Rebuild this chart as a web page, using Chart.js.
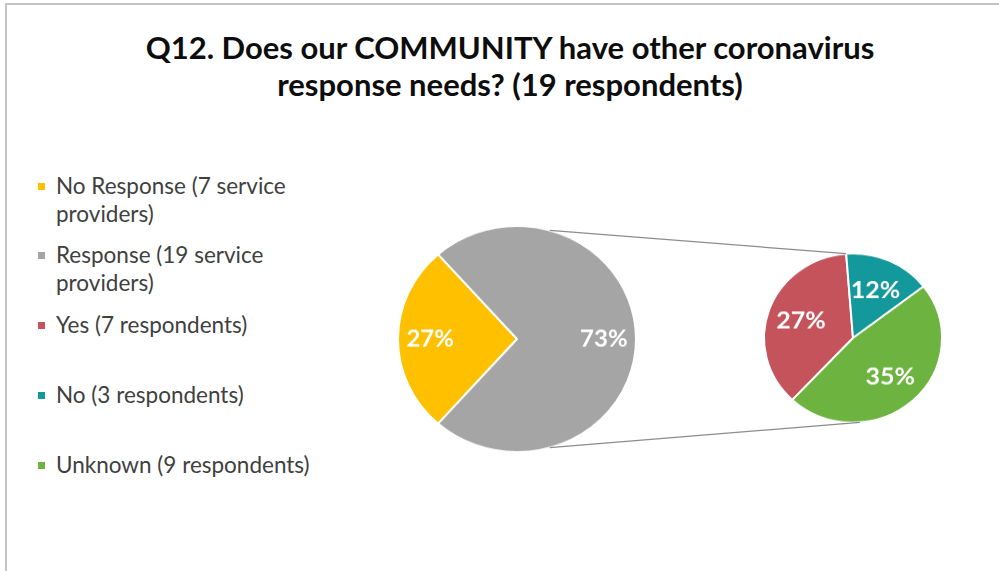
<!DOCTYPE html>
<html>
<head>
<meta charset="utf-8">
<script src="https://cdn.jsdelivr.net/npm/chart.js@4"></script>
<style>
  html, body { margin: 0; padding: 0; background: #fff; }
  #page { position: relative; width: 999px; height: 571px; overflow: hidden; background: #fff; font-family: Lato, "Open Sans", sans-serif; }
  #frameTop { position: absolute; left: 5px; top: 3px; width: 994px; height: 2px; background: #c4c4c4; }
  #frameLeft { position: absolute; left: 5px; top: 3px; width: 2px; height: 568px; background: #c4c4c4; }
  #title { position: absolute; left: 0; width: 1020px; top: 29px; text-align: center; font-weight: 700; font-size: 31px; line-height: 37px; color: #0d0d0d; }
  .leg { position: absolute; left: 56px; font-size: 22.5px; line-height: 28px; color: #404040; white-space: nowrap; }
  .sw { position: absolute; left: 38px; width: 7px; height: 7px; }
  .pieBox { position: absolute; transform: scaleY(0.95); transform-origin: 50% 50%; }
  #links { position: absolute; left: 0; top: 0; }
</style>
</head>
<body>
<div id="page">
  <div id="frameTop"></div>
  <div id="frameLeft"></div>
  <div id="title">Q12. Does our COMMUNITY have other coronavirus<br>response needs? (19 respondents)</div>
  <div id="legend"></div>
  <div class="pieBox" id="boxMain" style="left:392px; top:214px; width:250px; height:250px;"><canvas id="mainPie" width="250" height="250"></canvas></div>
  <div class="pieBox" id="boxSub" style="left:758px; top:243px; width:190px; height:190px;"><canvas id="subPie" width="190" height="190"></canvas></div>
  <svg id="links" width="999" height="571"></svg>
</div>
<script>
// Primary pie: providers who did / did not respond
const mainLabels = [['No Response (7 service', 'providers)'], ['Response (19 service', 'providers)']];
const mainValues = [7, 19];
const mainColors = ['#FFC000', '#A5A5A5'];

// Secondary pie: breakdown of the responses
const subLabels = [['Yes (7 respondents)'], ['No (3 respondents)'], ['Unknown (9 respondents)']];
const subValues = [7, 3, 9];
const subColors = ['#C5535C', '#13989C', '#6CB33F'];

const total = mainValues.reduce((a, b) => a + b, 0);
const pct = v => Math.round(v / total * 100) + '%';

// Legend rows (first-line centres)
const legendRows = [186, 255, 325, 395, 465];
const legendItems = mainLabels.map((l, i) => ({ lines: l, color: mainColors[i] }))
  .concat(subLabels.map((l, i) => ({ lines: l, color: subColors[i] })));
const legendEl = document.getElementById('legend');
legendItems.forEach((item, i) => {
  const y = legendRows[i];
  const sw = document.createElement('div');
  sw.className = 'sw';
  sw.style.top = (y - 3) + 'px';
  sw.style.background = item.color;
  legendEl.appendChild(sw);
  const t = document.createElement('div');
  t.className = 'leg';
  t.style.top = (y - 14) + 'px';
  t.innerHTML = item.lines.join('<br>');
  legendEl.appendChild(t);
});

// Percentage labels inside each slice
function sliceLabels(factor, font) {
  return {
    id: 'sliceLabels',
    afterDatasetsDraw(chart) {
      const ctx = chart.ctx;
      const meta = chart.getDatasetMeta(0);
      const values = chart.data.datasets[0].data;
      ctx.save();
      ctx.fillStyle = '#ffffff';
      ctx.font = font;
      ctx.textAlign = 'center';
      ctx.textBaseline = 'middle';
      meta.data.forEach((arc, i) => {
        const p = arc.getProps(['x', 'y', 'startAngle', 'endAngle', 'outerRadius'], true);
        const mid = (p.startAngle + p.endAngle) / 2;
        const r = p.outerRadius * factor;
        ctx.fillText(pct(values[i]), p.x + Math.cos(mid) * r, p.y + Math.sin(mid) * r);
      });
      ctx.restore();
    }
  };
}

function pieConfig(labels, values, colors, rotation, factor, font) {
  return {
    type: 'pie',
    data: {
      labels: labels,
      datasets: [{ data: values, backgroundColor: colors, borderColor: '#ffffff', borderWidth: 2 }]
    },
    options: {
      responsive: false,
      animation: false,
      rotation: rotation,
      layout: { padding: 5 },
      plugins: { legend: { display: false }, tooltip: { enabled: false } }
    },
    plugins: [sliceLabels(factor, font)]
  };
}

// "No Response" slice centred on the left side of the primary pie
const mainRotation = 270 - (mainValues[0] / total) * 180;
// Secondary pie: "Yes" wedge ends just left of the top
const subTotal = subValues.reduce((a, b) => a + b, 0);
const subRotation = -4.4 - (subValues[0] / subTotal) * 360;

const mainChart = new Chart(document.getElementById('mainPie'),
  pieConfig(mainLabels, mainValues, mainColors, mainRotation, 0.73, 'bold 24px Lato, sans-serif'));
const subChart = new Chart(document.getElementById('subPie'),
  pieConfig(subLabels, subValues, subColors, subRotation, 0.62, 'bold 25px Lato, sans-serif'));

// Connector lines between the two pies
function pagePoint(chart, boxId, angle) {
  const box = document.getElementById(boxId);
  const arc = chart.getDatasetMeta(0).data[0];
  const r = arc.outerRadius;
  const left = parseFloat(box.style.left), top = parseFloat(box.style.top);
  const h = parseFloat(box.style.height);
  const px = left + arc.x + Math.cos(angle) * r;
  const yLocal = arc.y + Math.sin(angle) * r;
  const py = top + h / 2 + (yLocal - h / 2) * 0.95;
  return [px, py];
}
const splitAngle = subChart.getDatasetMeta(0).data[1].startAngle;
const mainA = -Math.PI / 2 + 16 * Math.PI / 180;
const mainB = Math.PI / 2 - 16 * Math.PI / 180;
const links = [
  [pagePoint(mainChart, 'boxMain', mainA), pagePoint(subChart, 'boxSub', splitAngle)],
  [pagePoint(mainChart, 'boxMain', mainB), pagePoint(subChart, 'boxSub', splitAngle + Math.PI)]
];
const svg = document.getElementById('links');
links.forEach(([a, b]) => {
  const ln = document.createElementNS('http://www.w3.org/2000/svg', 'line');
  ln.setAttribute('x1', a[0]); ln.setAttribute('y1', a[1]);
  ln.setAttribute('x2', b[0]); ln.setAttribute('y2', b[1]);
  ln.setAttribute('stroke', '#8c8c8c');
  ln.setAttribute('stroke-width', '1.3');
  svg.appendChild(ln);
});
</script>
</body>
</html>
